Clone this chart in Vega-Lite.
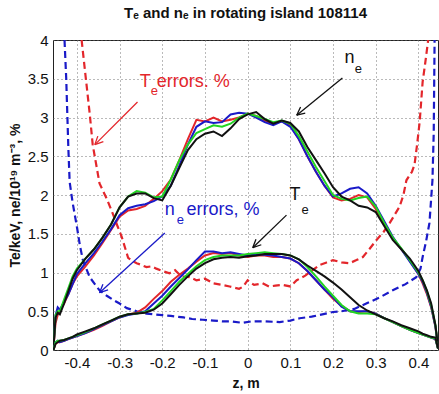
{
  "$schema": "https://vega.github.io/schema/vega-lite/v6.json",
  "width": 385,
  "height": 310,
  "autosize": {"type": "none"},
  "padding": {"left": 53, "top": 40, "right": 1, "bottom": 44},
  "background": "white",
  "title": {"text": "Tₑ and nₑ in rotating island 108114", "fontSize": 15, "fontWeight": "bold", "font": "Liberation Sans Narrow, Liberation Sans, sans-serif", "offset": 12, "color": "#111"},
  "config": {
    "view": {"stroke": "#222", "strokeWidth": 1},
    "axis": {
      "labelFont": "Liberation Sans Narrow, Liberation Sans, sans-serif",
      "labelFontSize": 15,
      "labelColor": "#111",
      "titleFont": "Liberation Sans, sans-serif",
      "titleFontWeight": "bold",
      "titleFontSize": 14,
      "titleColor": "#111",
      "domain": false,
      "ticks": false,
      "grid": true,
      "gridDash": [1, 3],
      "gridColor": "#666",
      "gridOpacity": 0.9,
      "labelPadding": 5
    }
  },
  "datasets": {
    "ne": [
      {"z": -0.455, "R": 0.02, "B": 0.02, "G": 0.02, "K": 0.02},
      {"z": -0.45, "R": 0.35, "B": 0.45, "G": 0.45, "K": 0.42},
      {"z": -0.445, "R": 0.45, "B": 0.55, "G": 0.5, "K": 0.48},
      {"z": -0.44, "R": 0.5, "B": 0.52, "G": 0.5, "K": 0.46},
      {"z": -0.43, "R": 0.6, "B": 0.62, "G": 0.65, "K": 0.6},
      {"z": -0.42, "R": 0.72, "B": 0.72, "G": 0.8, "K": 0.76},
      {"z": -0.41, "R": 0.85, "B": 0.85, "G": 0.95, "K": 0.92},
      {"z": -0.4, "R": 0.95, "B": 0.98, "G": 1.05, "K": 1.03},
      {"z": -0.38, "R": 1.08, "B": 1.12, "G": 1.18, "K": 1.18},
      {"z": -0.36, "R": 1.22, "B": 1.25, "G": 1.3, "K": 1.3},
      {"z": -0.34, "R": 1.38, "B": 1.4, "G": 1.45, "K": 1.45},
      {"z": -0.32, "R": 1.55, "B": 1.56, "G": 1.62, "K": 1.62},
      {"z": -0.3, "R": 1.72, "B": 1.74, "G": 1.84, "K": 1.84},
      {"z": -0.28, "R": 1.8, "B": 1.83, "G": 1.98, "K": 1.98},
      {"z": -0.26, "R": 1.82, "B": 1.86, "G": 2.05, "K": 2.02},
      {"z": -0.24, "R": 1.86, "B": 1.88, "G": 2.03, "K": 2.02},
      {"z": -0.22, "R": 1.95, "B": 1.92, "G": 1.97, "K": 1.96},
      {"z": -0.2, "R": 2.05, "B": 1.98, "G": 1.98, "K": 1.93},
      {"z": -0.18, "R": 2.2, "B": 2.12, "G": 2.2, "K": 2.12},
      {"z": -0.16, "R": 2.45, "B": 2.38, "G": 2.45, "K": 2.35},
      {"z": -0.14, "R": 2.72, "B": 2.65, "G": 2.65, "K": 2.58},
      {"z": -0.12, "R": 2.97, "B": 2.88, "G": 2.8, "K": 2.72},
      {"z": -0.1, "R": 2.95, "B": 2.95, "G": 2.85, "K": 2.79},
      {"z": -0.08, "R": 3.0, "B": 2.93, "G": 2.9, "K": 2.82},
      {"z": -0.06, "R": 2.95, "B": 2.94, "G": 2.88, "K": 2.76},
      {"z": -0.04, "R": 2.97, "B": 3.04, "G": 2.92, "K": 2.86},
      {"z": -0.02, "R": 3.0, "B": 3.06, "G": 3.0, "K": 2.98},
      {"z": 0.0, "R": 3.05, "B": 3.05, "G": 3.05, "K": 3.04},
      {"z": 0.02, "R": 3.02, "B": 3.0, "G": 3.02, "K": 3.07},
      {"z": 0.04, "R": 2.96, "B": 2.94, "G": 2.98, "K": 2.98},
      {"z": 0.06, "R": 2.92, "B": 2.9, "G": 2.94, "K": 2.92},
      {"z": 0.08, "R": 2.95, "B": 2.95, "G": 2.96, "K": 2.96},
      {"z": 0.1, "R": 2.9, "B": 2.88, "G": 2.92, "K": 2.93},
      {"z": 0.12, "R": 2.72, "B": 2.72, "G": 2.76, "K": 2.82},
      {"z": 0.14, "R": 2.5, "B": 2.5, "G": 2.56, "K": 2.62},
      {"z": 0.16, "R": 2.3, "B": 2.3, "G": 2.36, "K": 2.45},
      {"z": 0.18, "R": 2.12, "B": 2.12, "G": 2.18, "K": 2.28},
      {"z": 0.2, "R": 1.97, "B": 1.98, "G": 2.0, "K": 2.1},
      {"z": 0.22, "R": 1.93, "B": 2.02, "G": 1.95, "K": 1.98},
      {"z": 0.24, "R": 1.95, "B": 2.08, "G": 1.93, "K": 1.93},
      {"z": 0.26, "R": 2.0, "B": 2.1, "G": 1.96, "K": 1.86},
      {"z": 0.28, "R": 1.97, "B": 2.02, "G": 1.98, "K": 1.84},
      {"z": 0.3, "R": 1.82, "B": 1.86, "G": 1.85, "K": 1.78},
      {"z": 0.32, "R": 1.62, "B": 1.66, "G": 1.64, "K": 1.6},
      {"z": 0.34, "R": 1.44, "B": 1.46, "G": 1.45, "K": 1.42},
      {"z": 0.36, "R": 1.3, "B": 1.3, "G": 1.31, "K": 1.3},
      {"z": 0.38, "R": 1.15, "B": 1.14, "G": 1.16, "K": 1.18},
      {"z": 0.4, "R": 0.98, "B": 0.98, "G": 1.0, "K": 1.02},
      {"z": 0.41, "R": 0.86, "B": 0.88, "G": 0.9, "K": 0.9},
      {"z": 0.42, "R": 0.72, "B": 0.74, "G": 0.76, "K": 0.77},
      {"z": 0.43, "R": 0.55, "B": 0.56, "G": 0.58, "K": 0.6},
      {"z": 0.44, "R": 0.3, "B": 0.3, "G": 0.32, "K": 0.32},
      {"z": 0.446, "R": 0.03, "B": 0.03, "G": 0.03, "K": 0.05}
    ],
    "te": [
      {"z": -0.455, "R": 0.0, "B": 0.0, "G": 0.0, "K": 0.0},
      {"z": -0.45, "R": 0.08, "B": 0.1, "G": 0.1, "K": 0.08},
      {"z": -0.445, "R": 0.1, "B": 0.12, "G": 0.12, "K": 0.1},
      {"z": -0.44, "R": 0.1, "B": 0.1, "G": 0.12, "K": 0.12},
      {"z": -0.43, "R": 0.12, "B": 0.12, "G": 0.13, "K": 0.13},
      {"z": -0.42, "R": 0.14, "B": 0.14, "G": 0.15, "K": 0.15},
      {"z": -0.41, "R": 0.16, "B": 0.16, "G": 0.17, "K": 0.17},
      {"z": -0.4, "R": 0.18, "B": 0.18, "G": 0.19, "K": 0.2},
      {"z": -0.38, "R": 0.22, "B": 0.22, "G": 0.23, "K": 0.24},
      {"z": -0.36, "R": 0.26, "B": 0.27, "G": 0.28, "K": 0.28},
      {"z": -0.34, "R": 0.31, "B": 0.32, "G": 0.33, "K": 0.33},
      {"z": -0.32, "R": 0.37, "B": 0.37, "G": 0.38, "K": 0.38},
      {"z": -0.3, "R": 0.42, "B": 0.42, "G": 0.43, "K": 0.43},
      {"z": -0.28, "R": 0.46, "B": 0.45, "G": 0.46, "K": 0.46},
      {"z": -0.26, "R": 0.48, "B": 0.47, "G": 0.47, "K": 0.47},
      {"z": -0.24, "R": 0.55, "B": 0.5, "G": 0.49, "K": 0.48},
      {"z": -0.22, "R": 0.66, "B": 0.6, "G": 0.53, "K": 0.52},
      {"z": -0.2, "R": 0.76, "B": 0.7, "G": 0.64, "K": 0.6},
      {"z": -0.18, "R": 0.88, "B": 0.82, "G": 0.76, "K": 0.72},
      {"z": -0.16, "R": 0.97, "B": 0.93, "G": 0.88, "K": 0.84},
      {"z": -0.14, "R": 1.05, "B": 1.04, "G": 0.98, "K": 0.95},
      {"z": -0.12, "R": 1.14, "B": 1.16, "G": 1.08, "K": 1.05},
      {"z": -0.1, "R": 1.22, "B": 1.27, "G": 1.16, "K": 1.12},
      {"z": -0.08, "R": 1.25, "B": 1.27, "G": 1.2, "K": 1.17},
      {"z": -0.06, "R": 1.24, "B": 1.25, "G": 1.22, "K": 1.19},
      {"z": -0.04, "R": 1.25, "B": 1.26, "G": 1.22, "K": 1.2},
      {"z": -0.02, "R": 1.22, "B": 1.24, "G": 1.22, "K": 1.19},
      {"z": 0.0, "R": 1.2, "B": 1.22, "G": 1.24, "K": 1.21},
      {"z": 0.02, "R": 1.22, "B": 1.24, "G": 1.25, "K": 1.22},
      {"z": 0.04, "R": 1.22, "B": 1.23, "G": 1.26, "K": 1.24},
      {"z": 0.06, "R": 1.2, "B": 1.22, "G": 1.25, "K": 1.24},
      {"z": 0.08, "R": 1.2, "B": 1.2, "G": 1.24, "K": 1.24},
      {"z": 0.1, "R": 1.18, "B": 1.18, "G": 1.22, "K": 1.22},
      {"z": 0.12, "R": 1.12, "B": 1.12, "G": 1.17, "K": 1.17},
      {"z": 0.14, "R": 1.02, "B": 1.02, "G": 1.07, "K": 1.09},
      {"z": 0.16, "R": 0.9, "B": 0.9, "G": 0.95, "K": 1.02},
      {"z": 0.18, "R": 0.78, "B": 0.78, "G": 0.82, "K": 0.95},
      {"z": 0.2, "R": 0.66, "B": 0.68, "G": 0.7, "K": 0.87},
      {"z": 0.22, "R": 0.57, "B": 0.56, "G": 0.58, "K": 0.78},
      {"z": 0.24, "R": 0.5, "B": 0.5, "G": 0.5, "K": 0.68},
      {"z": 0.26, "R": 0.49, "B": 0.5, "G": 0.47, "K": 0.58},
      {"z": 0.28, "R": 0.5, "B": 0.5, "G": 0.47, "K": 0.51},
      {"z": 0.3, "R": 0.47, "B": 0.47, "G": 0.46, "K": 0.46},
      {"z": 0.32, "R": 0.41, "B": 0.41, "G": 0.41, "K": 0.41},
      {"z": 0.34, "R": 0.36, "B": 0.36, "G": 0.36, "K": 0.37},
      {"z": 0.36, "R": 0.31, "B": 0.31, "G": 0.31, "K": 0.32},
      {"z": 0.38, "R": 0.26, "B": 0.26, "G": 0.26, "K": 0.28},
      {"z": 0.4, "R": 0.22, "B": 0.22, "G": 0.22, "K": 0.24},
      {"z": 0.41, "R": 0.2, "B": 0.2, "G": 0.2, "K": 0.21},
      {"z": 0.42, "R": 0.18, "B": 0.18, "G": 0.18, "K": 0.19},
      {"z": 0.43, "R": 0.16, "B": 0.16, "G": 0.16, "K": 0.17},
      {"z": 0.44, "R": 0.14, "B": 0.14, "G": 0.15, "K": 0.16},
      {"z": 0.446, "R": 0.02, "B": 0.02, "G": 0.02, "K": 0.02}
    ],
    "err": [
      {"z": -0.389, "v": 4.0, "c": "R"},
      {"z": -0.38, "v": 3.55, "c": "R"},
      {"z": -0.37, "v": 3.05, "c": "R"},
      {"z": -0.363, "v": 2.65, "c": "R"},
      {"z": -0.355, "v": 2.4, "c": "R"},
      {"z": -0.347, "v": 2.15, "c": "R"},
      {"z": -0.33, "v": 1.95, "c": "R"},
      {"z": -0.316, "v": 1.76, "c": "R"},
      {"z": -0.305, "v": 1.6, "c": "R"},
      {"z": -0.295, "v": 1.46, "c": "R"},
      {"z": -0.28, "v": 1.19, "c": "R"},
      {"z": -0.27, "v": 1.15, "c": "R"},
      {"z": -0.26, "v": 1.12, "c": "R"},
      {"z": -0.25, "v": 1.1, "c": "R"},
      {"z": -0.237, "v": 1.07, "c": "R"},
      {"z": -0.225, "v": 1.08, "c": "R"},
      {"z": -0.214, "v": 1.05, "c": "R"},
      {"z": -0.2, "v": 1.02, "c": "R"},
      {"z": -0.183, "v": 0.99, "c": "R"},
      {"z": -0.17, "v": 1.03, "c": "R"},
      {"z": -0.155, "v": 0.95, "c": "R"},
      {"z": -0.136, "v": 0.94, "c": "R"},
      {"z": -0.12, "v": 0.9, "c": "R"},
      {"z": -0.1, "v": 0.92, "c": "R"},
      {"z": -0.08, "v": 0.86, "c": "R"},
      {"z": -0.06, "v": 0.84, "c": "R"},
      {"z": -0.042, "v": 0.82, "c": "R"},
      {"z": -0.02, "v": 0.79, "c": "R"},
      {"z": -0.01, "v": 0.82, "c": "R"},
      {"z": 0.0, "v": 0.9, "c": "R"},
      {"z": 0.015, "v": 0.84, "c": "R"},
      {"z": 0.035, "v": 0.86, "c": "R"},
      {"z": 0.05, "v": 0.82, "c": "R"},
      {"z": 0.065, "v": 0.83, "c": "R"},
      {"z": 0.082, "v": 0.84, "c": "R"},
      {"z": 0.1, "v": 0.82, "c": "R"},
      {"z": 0.115, "v": 0.9, "c": "R"},
      {"z": 0.135, "v": 0.96, "c": "R"},
      {"z": 0.152, "v": 1.03, "c": "R"},
      {"z": 0.17, "v": 1.1, "c": "R"},
      {"z": 0.185, "v": 1.13, "c": "R"},
      {"z": 0.2, "v": 1.16, "c": "R"},
      {"z": 0.22, "v": 1.13, "c": "R"},
      {"z": 0.239, "v": 1.12, "c": "R"},
      {"z": 0.255, "v": 1.16, "c": "R"},
      {"z": 0.27, "v": 1.2, "c": "R"},
      {"z": 0.285, "v": 1.3, "c": "R"},
      {"z": 0.302, "v": 1.42, "c": "R"},
      {"z": 0.318, "v": 1.52, "c": "R"},
      {"z": 0.333, "v": 1.64, "c": "R"},
      {"z": 0.345, "v": 1.75, "c": "R"},
      {"z": 0.356, "v": 1.85, "c": "R"},
      {"z": 0.365, "v": 2.0, "c": "R"},
      {"z": 0.372, "v": 2.19, "c": "R"},
      {"z": 0.385, "v": 2.3, "c": "R"},
      {"z": 0.391, "v": 2.39, "c": "R"},
      {"z": 0.397, "v": 2.65, "c": "R"},
      {"z": 0.403, "v": 2.94, "c": "R"},
      {"z": 0.41, "v": 3.46, "c": "R"},
      {"z": 0.416, "v": 3.7, "c": "R"},
      {"z": 0.423, "v": 4.0, "c": "R"},
      {"z": -0.429, "v": 4.0, "c": "B"},
      {"z": -0.425, "v": 3.5, "c": "B"},
      {"z": -0.42, "v": 2.6, "c": "B"},
      {"z": -0.417, "v": 2.17, "c": "B"},
      {"z": -0.41, "v": 1.9, "c": "B"},
      {"z": -0.4, "v": 1.59, "c": "B"},
      {"z": -0.393, "v": 1.35, "c": "B"},
      {"z": -0.386, "v": 1.16, "c": "B"},
      {"z": -0.37, "v": 0.94, "c": "B"},
      {"z": -0.358, "v": 0.85, "c": "B"},
      {"z": -0.347, "v": 0.77, "c": "B"},
      {"z": -0.33, "v": 0.7, "c": "B"},
      {"z": -0.316, "v": 0.65, "c": "B"},
      {"z": -0.3, "v": 0.6, "c": "B"},
      {"z": -0.283, "v": 0.54, "c": "B"},
      {"z": -0.26, "v": 0.5, "c": "B"},
      {"z": -0.237, "v": 0.47, "c": "B"},
      {"z": -0.22, "v": 0.46, "c": "B"},
      {"z": -0.2, "v": 0.45, "c": "B"},
      {"z": -0.18, "v": 0.44, "c": "B"},
      {"z": -0.15, "v": 0.42, "c": "B"},
      {"z": -0.13, "v": 0.4, "c": "B"},
      {"z": -0.105, "v": 0.39, "c": "B"},
      {"z": -0.08, "v": 0.38, "c": "B"},
      {"z": -0.06, "v": 0.37, "c": "B"},
      {"z": -0.04, "v": 0.37, "c": "B"},
      {"z": -0.012, "v": 0.35, "c": "B"},
      {"z": 0.01, "v": 0.37, "c": "B"},
      {"z": 0.04, "v": 0.37, "c": "B"},
      {"z": 0.075, "v": 0.36, "c": "B"},
      {"z": 0.1, "v": 0.38, "c": "B"},
      {"z": 0.122, "v": 0.41, "c": "B"},
      {"z": 0.15, "v": 0.43, "c": "B"},
      {"z": 0.175, "v": 0.46, "c": "B"},
      {"z": 0.2, "v": 0.49, "c": "B"},
      {"z": 0.22, "v": 0.5, "c": "B"},
      {"z": 0.25, "v": 0.53, "c": "B"},
      {"z": 0.278, "v": 0.6, "c": "B"},
      {"z": 0.31, "v": 0.68, "c": "B"},
      {"z": 0.34, "v": 0.77, "c": "B"},
      {"z": 0.37, "v": 0.85, "c": "B"},
      {"z": 0.395, "v": 0.94, "c": "B"},
      {"z": 0.405, "v": 1.05, "c": "B"},
      {"z": 0.41, "v": 1.2, "c": "B"},
      {"z": 0.418, "v": 1.4, "c": "B"},
      {"z": 0.426, "v": 1.64, "c": "B"},
      {"z": 0.433, "v": 2.19, "c": "B"},
      {"z": 0.436, "v": 2.8, "c": "B"},
      {"z": 0.437, "v": 3.4, "c": "B"},
      {"z": 0.438, "v": 4.0, "c": "B"}
    ],
    "arrows": [
      {"z": -0.258, "v": 3.2, "z2": -0.358, "v2": 2.65, "c": "R"},
      {"z": -0.338, "v": 2.69, "z2": -0.358, "v2": 2.65, "c": "R"},
      {"z": -0.351, "v": 2.76, "z2": -0.358, "v2": 2.65, "c": "R"},
      {"z": -0.194, "v": 1.51, "z2": -0.347, "v2": 0.74, "c": "B"},
      {"z": -0.327, "v": 0.775, "z2": -0.347, "v2": 0.74, "c": "B"},
      {"z": -0.339, "v": 0.847, "z2": -0.347, "v2": 0.74, "c": "B"},
      {"z": 0.222, "v": 3.51, "z2": 0.115, "v2": 3.03, "c": "K"},
      {"z": 0.135, "v": 3.058, "z2": 0.115, "v2": 3.03, "c": "K"},
      {"z": 0.124, "v": 3.135, "z2": 0.115, "v2": 3.03, "c": "K"},
      {"z": 0.091, "v": 1.74, "z2": 0.012, "v2": 1.32, "c": "K"},
      {"z": 0.032, "v": 1.358, "z2": 0.012, "v2": 1.32, "c": "K"},
      {"z": 0.0195, "v": 1.4285, "z2": 0.012, "v2": 1.32, "c": "K"}
    ],
    "labels": [
      {"z": -0.253, "v": 3.394, "t": "T", "c": "R", "k": "main"},
      {"z": -0.213, "v": 3.394, "t": "errors. %", "c": "R", "k": "main"},
      {"z": -0.194, "v": 1.742, "t": "n", "c": "B", "k": "main"},
      {"z": -0.143, "v": 1.742, "t": "errors, %", "c": "B", "k": "main"},
      {"z": 0.227, "v": 3.703, "t": "n", "c": "K", "k": "main"},
      {"z": 0.098, "v": 1.935, "t": "T", "c": "K", "k": "main"},
      {"z": -0.227, "v": 3.29, "t": "e", "c": "R", "k": "sub"},
      {"z": -0.166, "v": 1.63, "t": "e", "c": "B", "k": "sub"},
      {"z": 0.251, "v": 3.574, "t": "e", "c": "K", "k": "sub"},
      {"z": 0.126, "v": 1.755, "t": "e", "c": "K", "k": "sub"}
    ]
  },
  "encoding": {
    "x": {"field": "z", "type": "quantitative", "scale": {"domain": [-0.456, 0.446], "nice": false, "zero": false},
          "axis": {"values": [-0.4, -0.3, -0.2, -0.1, 0, 0.1, 0.2, 0.3, 0.4], "labelExpr": "toString(round(datum.value*10)/10)", "title": "z, m", "titlePadding": 6, "labelFlush": false}},
    "y": {"field": "v", "type": "quantitative", "scale": {"domain": [0, 4], "nice": false},
          "axis": {"values": [0, 0.5, 1, 1.5, 2, 2.5, 3, 3.5, 4], "labelExpr": "toString(round(datum.value*10)/10)", "title": "Te/keV,  ne/10¹⁹ m⁻³, %", "titlePadding": 5, "labelFlush": false}},
    "color": {"field": "c", "type": "nominal", "scale": {"domain": ["R", "B", "G", "K"], "range": ["#e3262b", "#1a1ac8", "#22d422", "#111111"]}, "legend": null}
  },
  "layer": [
    {
      "data": {"name": "err"},
      "mark": {"type": "line", "strokeWidth": 2.2, "strokeDash": [7, 4], "clip": true},
      "encoding": {"order": {"field": "z", "type": "quantitative"}}
    },
    {
      "data": {"name": "ne"},
      "transform": [{"fold": ["R", "B", "G", "K"], "as": ["c", "v"]}],
      "mark": {"type": "line", "strokeWidth": 2, "clip": true},
      "encoding": {"order": {"field": "z", "type": "quantitative"}}
    },
    {
      "data": {"name": "te"},
      "transform": [{"fold": ["R", "B", "G", "K"], "as": ["c", "v"]}],
      "mark": {"type": "line", "strokeWidth": 2, "clip": true},
      "encoding": {"order": {"field": "z", "type": "quantitative"}}
    },
    {
      "data": {"name": "arrows"},
      "mark": {"type": "rule", "strokeWidth": 1.3},
      "encoding": {"x2": {"field": "z2"}, "y2": {"field": "v2"}}
    },
    {
      "data": {"name": "labels"},
      "transform": [{"filter": "datum.k == 'main'"}],
      "mark": {"type": "text", "align": "left", "baseline": "alphabetic", "fontSize": 18, "font": "Liberation Sans, sans-serif"},
      "encoding": {"text": {"field": "t"}}
    },
    {
      "data": {"name": "labels"},
      "transform": [{"filter": "datum.k == 'sub'"}],
      "mark": {"type": "text", "align": "left", "baseline": "alphabetic", "fontSize": 13, "font": "Liberation Sans, sans-serif"},
      "encoding": {"text": {"field": "t"}}
    }
  ]
}
